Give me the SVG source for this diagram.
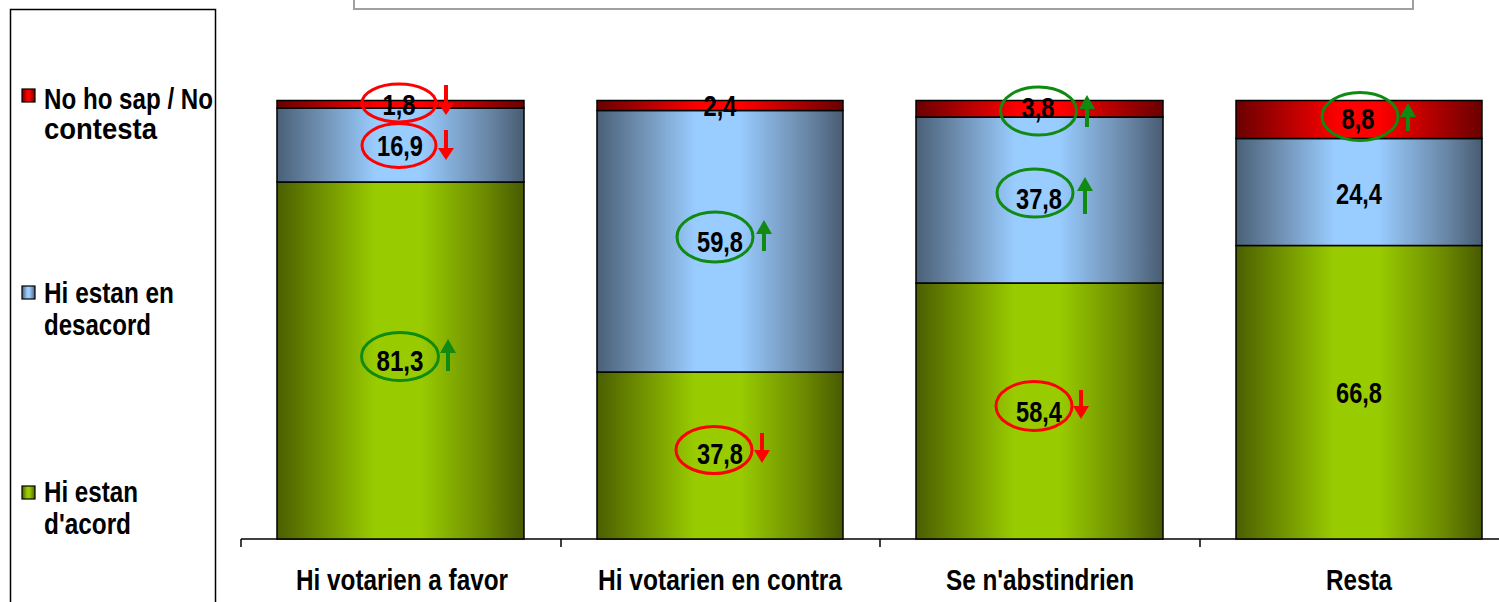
<svg xmlns="http://www.w3.org/2000/svg" width="1499" height="602" viewBox="0 0 1499 602">
<defs>
<linearGradient id="gRed" x1="0" y1="0" x2="1" y2="0">
<stop offset="0" stop-color="#6a0000"/><stop offset="0.15" stop-color="#a00000"/><stop offset="0.42" stop-color="#ff0000"/><stop offset="0.58" stop-color="#ff0000"/><stop offset="0.85" stop-color="#a00000"/><stop offset="1" stop-color="#6a0000"/>
</linearGradient>
<linearGradient id="gBlue" x1="0" y1="0" x2="1" y2="0">
<stop offset="0" stop-color="#4a6078"/><stop offset="0.15" stop-color="#6a88a8"/><stop offset="0.4" stop-color="#99ccff"/><stop offset="0.58" stop-color="#99ccff"/><stop offset="0.85" stop-color="#6a88a8"/><stop offset="1" stop-color="#485c72"/>
</linearGradient>
<linearGradient id="gGreen" x1="0" y1="0" x2="1" y2="0">
<stop offset="0" stop-color="#4a5e00"/><stop offset="0.15" stop-color="#6a8800"/><stop offset="0.4" stop-color="#99cc00"/><stop offset="0.58" stop-color="#99cc00"/><stop offset="0.85" stop-color="#6a8800"/><stop offset="1" stop-color="#485a00"/>
</linearGradient>
<style>
.seg{stroke:#000;stroke-width:1.5}
.sw{stroke:#000;stroke-width:1.2}
.lbl{font-family:"Liberation Sans",Arial,sans-serif;font-weight:bold;font-size:29px;fill:#000}
.val{font-family:"Liberation Sans",Arial,sans-serif;font-weight:bold;font-size:29px;fill:#000;text-anchor:middle}
.cat{font-family:"Liberation Sans",Arial,sans-serif;font-weight:bold;font-size:29px;fill:#000;text-anchor:middle}
.er{fill:none;stroke:#ff0000;stroke-width:3}
.eg{fill:none;stroke:#108a10;stroke-width:3}
.ar{fill:#ff0000}
.ag{fill:#108a10}
</style>
</defs>
<rect width="1499" height="602" fill="#fff"/>

<g id="title-box">
<rect x="354" y="-20" width="1059" height="29" fill="#fff" stroke="#a0a0a0" stroke-width="2"/>
</g>

<g id="legend">
<rect x="10.5" y="9.5" width="205" height="620" fill="#fff" stroke="#000" stroke-width="1.5"/>
<rect class="sw" x="22" y="89" width="13" height="13" fill="url(#gRed)"/>
<text class="lbl" x="44" y="109" textLength="169" lengthAdjust="spacingAndGlyphs">No ho sap / No</text>
<text class="lbl" x="44" y="139" textLength="113" lengthAdjust="spacingAndGlyphs">contesta</text>
<rect class="sw" x="22" y="286" width="13" height="13" fill="url(#gBlue)"/>
<text class="lbl" x="44" y="303" textLength="130" lengthAdjust="spacingAndGlyphs">Hi estan en</text>
<text class="lbl" x="44" y="335" textLength="107" lengthAdjust="spacingAndGlyphs">desacord</text>
<rect class="sw" x="22" y="486" width="13" height="13" fill="url(#gGreen)"/>
<text class="lbl" x="44" y="502" textLength="94" lengthAdjust="spacingAndGlyphs">Hi estan</text>
<text class="lbl" x="44" y="534" textLength="87" lengthAdjust="spacingAndGlyphs">d'acord</text>
</g>

<g id="connectors">
<line x1="241" y1="539" x2="1499" y2="539" stroke="#000" stroke-width="1.5"/>
<line x1="241" y1="539" x2="241" y2="547" stroke="#000" stroke-width="1.5"/>
<line x1="561" y1="539" x2="561" y2="547" stroke="#000" stroke-width="1.5"/>
<line x1="880" y1="539" x2="880" y2="547" stroke="#000" stroke-width="1.5"/>
<line x1="1200" y1="539" x2="1200" y2="547" stroke="#000" stroke-width="1.5"/>
</g>

<g id="bar-favor">
<rect class="seg" x="277" y="182" width="247" height="357" fill="url(#gGreen)"/>
<rect class="seg" x="277" y="108" width="247" height="74" fill="url(#gBlue)"/>
<rect class="seg" x="277" y="100.5" width="247" height="7.5" fill="url(#gRed)"/>
<text class="val" x="399" y="115" textLength="33" lengthAdjust="spacingAndGlyphs">1,8</text>
<ellipse class="er" cx="399" cy="103" rx="37" ry="19"/>
<path class="ar" d="M444 85h4v18h6l-8 12l-8-12h6z"/>
<text class="val" x="400" y="156" textLength="46" lengthAdjust="spacingAndGlyphs">16,9</text>
<ellipse class="er" cx="399" cy="145.5" rx="37" ry="22"/>
<path class="ar" d="M444 130h4v18h6l-8 12l-8-12h6z"/>
<text class="val" x="400" y="371" textLength="47" lengthAdjust="spacingAndGlyphs">81,3</text>
<ellipse class="eg" cx="400" cy="356.5" rx="38.5" ry="24"/>
<path class="ag" d="M446 371h4v-18h6l-8-14l-8 14h6z"/>
<text class="cat" x="402" y="590" textLength="212" lengthAdjust="spacingAndGlyphs">Hi votarien a favor</text>
</g>

<g id="bar-contra">
<rect class="seg" x="597" y="372" width="246" height="167" fill="url(#gGreen)"/>
<rect class="seg" x="597" y="110.5" width="246" height="261.5" fill="url(#gBlue)"/>
<rect class="seg" x="597" y="100.5" width="246" height="10" fill="url(#gRed)"/>
<text class="val" x="720" y="116" textLength="33" lengthAdjust="spacingAndGlyphs">2,4</text>
<text class="val" x="720" y="252" textLength="46" lengthAdjust="spacingAndGlyphs">59,8</text>
<ellipse class="eg" cx="715" cy="237" rx="38" ry="25"/>
<path class="ag" d="M762 251h4v-17h6l-8-14l-8 14h6z"/>
<text class="val" x="720" y="464" textLength="46" lengthAdjust="spacingAndGlyphs">37,8</text>
<ellipse class="er" cx="714" cy="450" rx="38" ry="23.5"/>
<path class="ar" d="M760 433h4v17h6l-8 13l-8-13h6z"/>
<text class="cat" x="720" y="590" textLength="244" lengthAdjust="spacingAndGlyphs">Hi votarien en contra</text>
</g>

<g id="bar-abstencio">
<rect class="seg" x="916" y="283" width="247" height="256" fill="url(#gGreen)"/>
<rect class="seg" x="916" y="117" width="247" height="166" fill="url(#gBlue)"/>
<rect class="seg" x="916" y="100.5" width="247" height="16.5" fill="url(#gRed)"/>
<text class="val" x="1038" y="118" textLength="33" lengthAdjust="spacingAndGlyphs">3,8</text>
<ellipse class="eg" cx="1038.5" cy="111" rx="38" ry="24"/>
<path class="ag" d="M1085 127h4v-18h6l-8-14l-8 14h6z"/>
<text class="val" x="1039" y="209" textLength="46" lengthAdjust="spacingAndGlyphs">37,8</text>
<ellipse class="eg" cx="1035" cy="193" rx="38" ry="24"/>
<path class="ag" d="M1083 214h4v-23h6l-8-14l-8 14h6z"/>
<text class="val" x="1039" y="422" textLength="46" lengthAdjust="spacingAndGlyphs">58,4</text>
<ellipse class="er" cx="1034" cy="406" rx="38" ry="24.5"/>
<path class="ar" d="M1079 390h4v16h6l-8 13l-8-13h6z"/>
<text class="cat" x="1040" y="590" textLength="188" lengthAdjust="spacingAndGlyphs">Se n'abstindrien</text>
</g>

<g id="bar-resta">
<rect class="seg" x="1236" y="245.5" width="246" height="293.5" fill="url(#gGreen)"/>
<rect class="seg" x="1236" y="138.5" width="246" height="107" fill="url(#gBlue)"/>
<rect class="seg" x="1236" y="100.5" width="246" height="38" fill="url(#gRed)"/>
<text class="val" x="1358" y="129" textLength="33" lengthAdjust="spacingAndGlyphs">8,8</text>
<ellipse class="eg" cx="1360" cy="116.5" rx="38" ry="24"/>
<path class="ag" d="M1406 131h4v-14h6l-8-14l-8 14h6z"/>
<text class="val" x="1359" y="204" textLength="46" lengthAdjust="spacingAndGlyphs">24,4</text>
<text class="val" x="1359" y="403" textLength="46" lengthAdjust="spacingAndGlyphs">66,8</text>
<text class="cat" x="1359" y="590" textLength="66" lengthAdjust="spacingAndGlyphs">Resta</text>
</g>
</svg>
